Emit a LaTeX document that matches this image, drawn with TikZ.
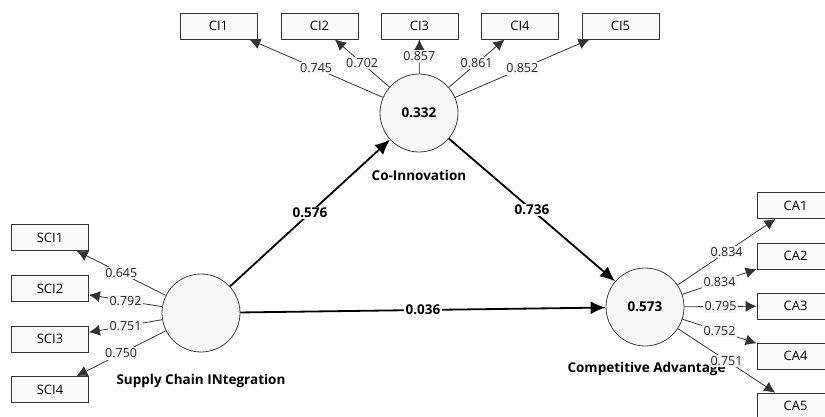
\documentclass[tikz,border=0pt]{standalone}
\usepackage{fontspec}
\setmainfont{Open Sans}
\usetikzlibrary{arrows.meta}

\begin{document}
\begin{tikzpicture}[x=1pt,y=-1pt,
    every node/.style={font=\fontsize{12.5}{14}\selectfont},
    latent/.style={circle, draw=black!75, fill=black!3, line width=0.8pt, minimum size=78pt, inner sep=0pt, font=\fontsize{13.5}{15}\selectfont\bfseries},
    indicator/.style={rectangle, draw=black!80, fill=black!2, line width=0.8pt, minimum width=77pt, minimum height=26pt, inner sep=0pt, font=\fontsize{13}{15}\selectfont},
    loading/.style={-{Latex[length=11pt,width=11pt]}, black!80, line width=0.8pt},
    inner path/.style={-{Latex[length=15pt,width=13pt]}, black, line width=1.8pt},
    weight/.style={fill=black!3, inner sep=1.5pt, text=black!85},
    coef/.style={fill=white, inner sep=1.5pt, font=\fontsize{13.5}{15}\selectfont\bfseries},
    title/.style={font=\fontsize{13.5}{15}\selectfont\bfseries}
  ]
  \useasboundingbox (0,0) rectangle (825,417);
  \clip (0,0) rectangle (825,417);

  % Latent variables
  \node[latent] (co)  at (419,113) {0.332};
  \node[latent] (sci) at (201,313) {};
  \node[latent] (ca)  at (645,307) {0.573};

  \node[title] (colbl)  at (419,175) {Co-Innovation};
  \node[title] (scilbl) at (201,381) {Supply Chain INtegration};
  \node[title, anchor=west] (calbl) at (564,369) {Competitive Advantage};

  % Co-Innovation indicators
  \node[indicator] (ci1) at (218.5,26) {CI1};
  \node[indicator] (ci2) at (319.5,26) {CI2};
  \node[indicator] (ci3) at (419.5,26) {CI3};
  \node[indicator] (ci4) at (520,26) {CI4};
  \node[indicator] (ci5) at (620.5,26) {CI5};

  % Supply chain integration indicators
  \node[indicator] (sci1) at (50,237.5) {SCI1};
  \node[indicator] (sci2) at (50,288.5) {SCI2};
  \node[indicator] (sci3) at (50,339) {SCI3};
  \node[indicator] (sci4) at (50,389.5) {SCI4};

  % Competitive advantage indicators
  \node[indicator] (ca1) at (795.5,205.5) {CA1};
  \node[indicator] (ca2) at (795.5,256) {CA2};
  \node[indicator] (ca3) at (795.5,306) {CA3};
  \node[indicator] (ca4) at (795.5,356) {CA4};
  \node[indicator] (ca5) at (795.5,406) {CA5};

  % Outer loadings
  \draw[loading] (co) -- (ci1) node[midway, weight] {0.745};
  \draw[loading] (co) -- (ci2) node[midway, weight] {0.702};
  \draw[loading] (co) -- (ci3) node[midway, weight] {0.857};
  \draw[loading] (co) -- (ci4) node[midway, weight] {0.861};
  \draw[loading] (co) -- (ci5) node[midway, weight] {0.852};

  \draw[loading] (sci) -- (sci1) node[midway, weight] {0.645};
  \draw[loading] (sci) -- (sci2) node[midway, weight] {0.792};
  \draw[loading] (sci) -- (sci3) node[midway, weight] {0.751};
  \draw[loading] (sci) -- (sci4) node[midway, weight] {0.750};

  \draw[loading] (ca) -- (ca1) node[midway, weight] {0.834};
  \draw[loading] (ca) -- (ca2) node[midway, weight] {0.834};
  \draw[loading] (ca) -- (ca3) node[midway, weight] {0.795};
  \draw[loading] (ca) -- (ca4) node[midway, weight] {0.752};
  \draw[loading] (ca) -- (ca5) node[midway, weight] {0.751};

  % Path coefficients
  \draw[inner path] (sci) -- (co) node[midway, coef] {0.576};
  \draw[inner path] (co) -- (ca) node[midway, coef] {0.736};
  \draw[inner path] (sci) -- (ca) node[midway, coef] {0.036};
\end{tikzpicture}
\end{document}
